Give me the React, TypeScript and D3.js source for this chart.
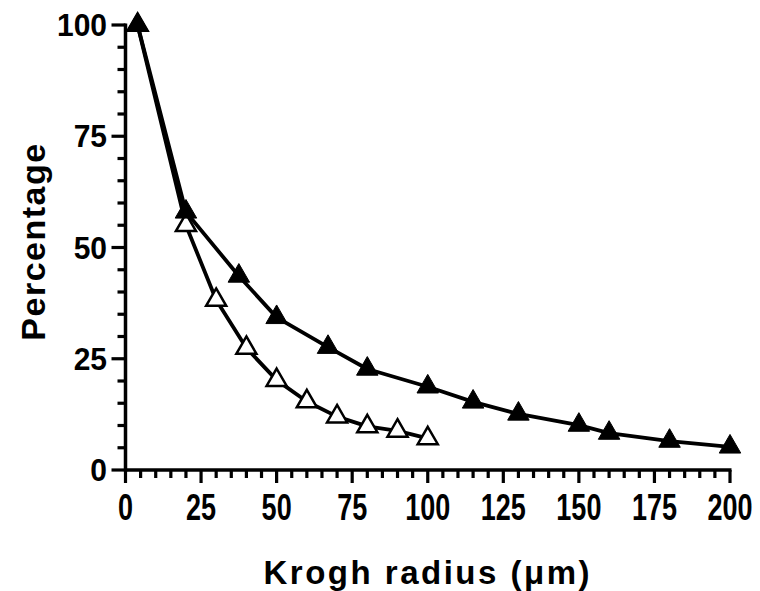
import React from "react";
import * as d3 from "d3";

const filledX = [4, 20, 37.5, 50, 67, 80, 100, 115, 130, 150, 160, 180, 200];
const filledY = [100, 58, 43.6, 34.3, 27.6, 22.7, 18.7, 15.3, 12.6, 10.1, 8.3, 6.5, 5.2];
const openX = [4, 20, 30, 40, 50, 60, 70, 80, 90, 100];
const openY = [100, 55, 38.2, 27.4, 20.2, 15.4, 12.0, 9.8, 8.8, 7.1];
const xTicks = [0, 25, 50, 75, 100, 125, 150, 175, 200];
const yTicks = [0, 25, 50, 75, 100];
const xMinor = d3.range(0, 201, 5);
const yMinor = d3.range(0, 101, 5);

const W = 760;
const H = 591;
const FONT = "'Liberation Sans', Arial, Helvetica, sans-serif";

export default function App() {
  const x = d3.scaleLinear().domain([0, 200]).range([125.5, 730]);
  const y = d3.scaleLinear().domain([0, 100]).range([470, 25]);

  const filled = filledX.map((v, i) => [v, filledY[i]] as [number, number]);
  const open = openX.map((v, i) => [v, openY[i]] as [number, number]);

  const line = d3
    .line<[number, number]>()
    .x((d) => x(d[0]))
    .y((d) => y(d[1]));

  const triFilled = d3.symbol(d3.symbolTriangle, 200)() || "";
  const triOpen = d3.symbol(d3.symbolTriangle, 175)() || "";

  const axisX0 = x(0);
  const axisY0 = y(0);

  return (
    <svg
      width={W}
      height={H}
      style={{ position: "absolute", left: 0, top: 0, display: "block", background: "#fff" }}
    >
      <rect width={W} height={H} fill="#fff" />
      {/* lines */}
      <path d={line(open) || ""} fill="none" stroke="#000" strokeWidth={3.8} strokeLinejoin="round" />
      <path d={line(filled) || ""} fill="none" stroke="#000" strokeWidth={3.8} strokeLinejoin="round" />

      {/* open markers */}
      {open.map((d, i) => (
        <path
          key={"o" + i}
          d={triOpen}
          transform={`translate(${x(d[0])},${y(d[1])})`}
          fill="#fff"
          stroke="#000"
          strokeWidth={2.5}
          strokeLinejoin="miter"
        />
      ))}
      {/* filled markers */}
      {filled.map((d, i) => (
        <path
          key={"f" + i}
          d={triFilled}
          transform={`translate(${x(d[0])},${y(d[1])})`}
          fill="#000"
          stroke="#000"
          strokeWidth={1}
        />
      ))}

      {/* x axis */}
      <line x1={axisX0 - 1.5} x2={x(200) + 1.5} y1={axisY0} y2={axisY0} stroke="#000" strokeWidth={3.5} />
      {xMinor.map((t) => {
        const major = t % 25 === 0;
        return (
          <line
            key={"xm" + t}
            x1={x(t)}
            x2={x(t)}
            y1={axisY0}
            y2={axisY0 + (major ? 13 : 8)}
            stroke="#000"
            strokeWidth={3.2}
          />
        );
      })}
      {xTicks.map((t) => (
        <text
          key={"xt" + t}
          transform={`translate(${x(t)},520) scale(1,1.37)`}
          textAnchor="middle"
          fontFamily={FONT}
          fontWeight="bold"
          fontSize={27}
          fill="#000"
        >
          {t}
        </text>
      ))}

      {/* y axis */}
      <line x1={axisX0} x2={axisX0} y1={y(100) - 1.5} y2={axisY0 + 1.5} stroke="#000" strokeWidth={3.5} />
      {yMinor.map((t) => {
        const major = t % 25 === 0;
        return (
          <line
            key={"ym" + t}
            x1={axisX0}
            x2={axisX0 - (major ? 14 : 8)}
            y1={y(t)}
            y2={y(t)}
            stroke="#000"
            strokeWidth={3.2}
          />
        );
      })}
      {yTicks.map((t) => (
        <text
          key={"yt" + t}
          transform={`translate(107,${y(t) + 11}) scale(1,1.05)`}
          textAnchor="end"
          fontFamily={FONT}
          fontWeight="bold"
          fontSize={30}
          fill="#000"
        >
          {t}
        </text>
      ))}

      {/* axis titles */}
      <text
        x={(x(0) + x(200)) / 2}
        y={584}
        textAnchor="middle"
        fontFamily={FONT}
        fontWeight="bold"
        fontSize={33}
        letterSpacing={2.5}
        fill="#000"
      >
        Krogh radius (μm)
      </text>
      <text
        transform={`translate(45,${(y(0) + y(100)) / 2 - 6}) rotate(-90)`}
        textAnchor="middle"
        fontFamily={FONT}
        fontWeight="bold"
        fontSize={34}
        letterSpacing={1.5}
        fill="#000"
      >
        Percentage
      </text>
    </svg>
  );
}
